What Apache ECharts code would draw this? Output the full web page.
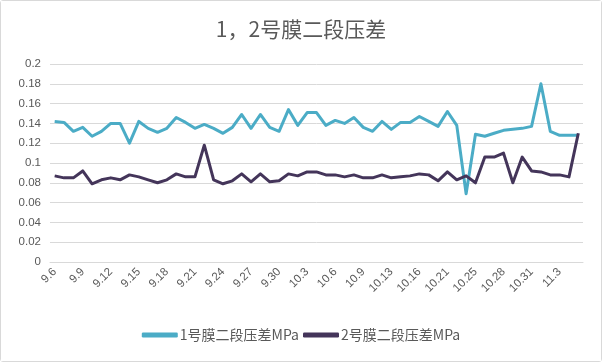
<!DOCTYPE html>
<html>
<head>
<meta charset="utf-8">
<script src="https://cdn.jsdelivr.net/npm/echarts@6/dist/echarts.min.js"></script>
<style>
html,body{margin:0;padding:0;background:#fff;}
#c{width:600px;height:360px;border:1px solid #d9d9d9;border-radius:3px;}
</style>
</head>
<body>
<div id="c"></div>
<script>
const titleText = '1，2号膜二段压差';
const categories = ['9.6','9.7','9.8','9.9','9.10','9.11','9.12','9.13','9.14','9.15','9.16','9.17','9.18','9.19','9.20','9.21','9.22','9.23','9.24','9.25','9.26','9.27','9.28','9.29','9.30',
  '10.1','10.2','10.3','10.4','10.5','10.6','10.7','10.8','10.9','10.10','10.11','10.13','10.14','10.15','10.16','10.18','10.19','10.21','10.22','10.23','10.25','10.26','10.27','10.28','10.29','10.30','10.31','11.1','11.2','11.3','11.4','11.5'];
const seriesNames = ['1号膜二段压差MPa','2号膜二段压差MPa'];
const membrane1 = [0.142,0.141,0.132,0.136,0.127,0.132,0.140,0.140,0.120,0.142,0.135,0.131,0.135,0.146,0.141,0.135,0.139,0.135,0.130,0.136,0.149,0.135,0.149,0.136,0.132,
  0.154,0.138,0.151,0.151,0.138,0.143,0.140,0.146,0.136,0.132,0.142,0.134,0.141,0.141,0.147,0.142,0.137,0.152,0.138,0.069,0.129,0.127,0.130,0.133,0.134,0.135,0.137,0.180,0.132,0.128,0.128,0.128];
const membrane2 = [0.087,0.085,0.085,0.092,0.079,0.083,0.085,0.083,0.088,0.086,0.083,0.080,0.083,0.089,0.086,0.086,0.118,0.083,0.079,0.082,0.089,0.081,0.089,0.081,0.082,
  0.089,0.087,0.091,0.091,0.088,0.088,0.086,0.088,0.085,0.085,0.088,0.085,0.086,0.087,0.089,0.088,0.082,0.091,0.083,0.087,0.080,0.106,0.106,0.110,0.080,0.106,0.092,0.091,0.088,0.088,0.086,0.130];
const yMin = 0, yMax = 0.2, yStep = 0.02;

const chart = echarts.init(document.getElementById('c'), null, {renderer:'canvas'});
const font = '"Noto Sans CJK SC","Noto Sans",sans-serif';
chart.setOption({
  animation:false,
  backgroundColor:'#fff',
  title:{text:titleText,left:'center',top:13,textStyle:{fontFamily:font,fontSize:21,fontWeight:'normal',color:'#595959'}},
  grid:{left:49,right:18,top:63,bottom:99,containLabel:false},
  legend:{bottom:14,left:'center',itemWidth:36,itemHeight:5,itemGap:4,icon:'roundRect',
    textStyle:{fontFamily:font,fontSize:14,color:'#595959',padding:[0,0,0,-3]},data:seriesNames},
  xAxis:{type:'category',data:categories,boundaryGap:true,
    axisLine:{lineStyle:{color:'#d9d9d9'}},axisTick:{show:false},
    axisLabel:{interval:2,rotate:45,fontFamily:'"Liberation Sans",sans-serif',fontSize:11.5,color:'#595959',margin:8}},
  yAxis:{type:'value',min:yMin,max:yMax,interval:yStep,
    axisLine:{show:false},axisTick:{show:false},
    splitLine:{lineStyle:{color:'#d9d9d9'}},
    axisLabel:{fontFamily:'"Liberation Sans",sans-serif',fontSize:11.5,color:'#595959',margin:9,
      formatter:v=>String(Math.round(v*100)/100)}},
  series:[
    {name:seriesNames[0],type:'line',data:membrane1,showSymbol:false,symbol:'none',lineStyle:{width:3,color:'#4BACC6',join:'round'},itemStyle:{color:'#4BACC6'}},
    {name:seriesNames[1],type:'line',data:membrane2,showSymbol:false,symbol:'none',lineStyle:{width:3,color:'#44355A',join:'round'},itemStyle:{color:'#44355A'}}
  ]
});
</script>
</body>
</html>
